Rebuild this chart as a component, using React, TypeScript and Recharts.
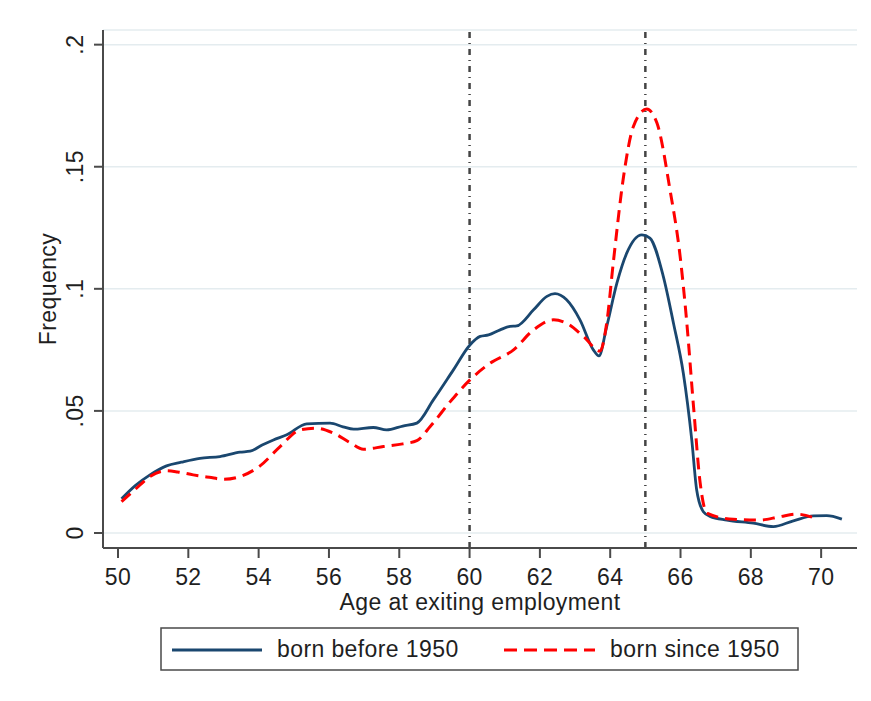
import React from 'react';
import { CartesianGrid, Label, Line, LineChart, ReferenceLine, XAxis, YAxis } from 'recharts';

// kernel density of age at exiting employment, two birth cohorts

const beforeAges = [
  50.1, 50.5, 50.91, 51.38, 51.8, 52.33, 52.9, 53.47, 53.76, 54.1, 54.42, 54.8, 55.37, 56.03,
  56.4, 56.7, 57.26, 57.64, 58.1, 58.5, 58.97, 59.54, 60.01, 60.3, 60.54, 60.87, 61.15, 61.34,
  61.82, 62.2, 62.43, 62.76, 63.14, 63.52, 63.68, 63.9, 64.19, 64.47, 64.9, 65.13, 65.51, 65.8,
  66.08, 66.32, 66.46, 66.65, 66.84, 67.32, 68.07, 68.64, 69.21, 69.78, 70.16, 70.59
];
const beforeValues = [
  0.014, 0.0195, 0.0238, 0.0275, 0.029, 0.0306, 0.0313, 0.0331, 0.0335, 0.036, 0.0381, 0.0402,
  0.0447, 0.045, 0.0435, 0.0425, 0.0432, 0.0422, 0.0438, 0.045, 0.0545, 0.0668, 0.077, 0.0805,
  0.0811, 0.0832, 0.0846, 0.0848, 0.0914, 0.0969, 0.098, 0.0955, 0.0873, 0.075, 0.0725, 0.0845,
  0.1023, 0.1146, 0.1221, 0.1208, 0.1051, 0.0859, 0.0654, 0.0381, 0.0176, 0.0087, 0.0068,
  0.0053, 0.004, 0.0026, 0.005, 0.007, 0.0071, 0.0057
];

const sinceAges = [
  50.1, 50.5, 50.91, 51.38, 51.7, 52.14, 52.6, 53.0, 53.47, 54.04, 54.61, 55.18, 55.65, 56.13,
  56.6, 56.98, 57.55, 58.1, 58.5, 58.88, 59.45, 60.01, 60.58, 61.25, 61.82, 62.39, 62.76, 63.24,
  63.71, 63.9, 64.09, 64.38, 64.66, 65.04, 65.33, 65.7, 65.99, 66.18, 66.37, 66.56, 66.75, 67.5,
  68.26, 68.83, 69.31, 69.92
];
const sinceValues = [
  0.0128, 0.018, 0.0231, 0.0255, 0.025, 0.0238, 0.0228, 0.022, 0.0231, 0.0275, 0.0354, 0.0422,
  0.0429, 0.0409, 0.037, 0.0343, 0.0354, 0.0365, 0.0378, 0.0436, 0.0538, 0.0627, 0.0695, 0.075,
  0.0832, 0.0873, 0.0859, 0.0805, 0.0745, 0.0859, 0.111, 0.146, 0.1665, 0.1736, 0.1679, 0.1406,
  0.1132, 0.0859, 0.0518, 0.0204, 0.0081, 0.0056, 0.0053, 0.0067, 0.0077, 0.0056
];

const seriesNames = ['born before 1950', 'born since 1950'];
const xTicks = [50, 52, 54, 56, 58, 60, 62, 64, 66, 68, 70];
const yTicks = [0, 0.05, 0.1, 0.15, 0.2];
const markerAges = [60, 65];

const beforeData = beforeAges.map((age, i) => ({ age, value: beforeValues[i] }));
const sinceData = sinceAges.map((age, i) => ({ age, value: sinceValues[i] }));

const FONT = '"Liberation Sans", Arial, sans-serif';
const FS = 23;
const LS = 0.4;
const TEXT = '#1f1f1f';
const BLUE = '#1a476f';
const RED = '#ff0000';
const AXIS = '#4a4a4a';

const fmtY = (v: number) => (v === 0 ? '0' : String(v).replace(/^0/, ''));

const XTick = (props: any) => {
  const { x, y, payload } = props;
  return (
    <text x={x} y={y} dy="0.76em" textAnchor="middle" fontSize={FS} letterSpacing={LS} fill={TEXT} fontFamily={FONT}>
      {payload.value}
    </text>
  );
};

const YTick = (props: any) => {
  const { x, y, payload } = props;
  return (
    <text
      x={x}
      y={y}
      textAnchor="middle"
      fontSize={FS}
      letterSpacing={LS}
      fill={TEXT}
      fontFamily={FONT}
      transform={`rotate(-90, ${x}, ${y})`}
    >
      {fmtY(payload.value)}
    </text>
  );
};

const Legend = () => (
  <svg width={640} height={45} style={{ position: 'absolute', left: 152, top: 619 }}>
    <rect x={1} y={1} width={637} height={42} fill="#fff" stroke={AXIS} strokeWidth={1.5} />
    <line x1={12} x2={102} y1={23} y2={23} stroke={BLUE} strokeWidth={2.8} />
    <text x={117} y={30} fontSize={FS} letterSpacing={LS} fill={TEXT} fontFamily={FONT}>{seriesNames[0]}</text>
    <line x1={344} x2={435} y1={23} y2={23} stroke={RED} strokeWidth={3} strokeDasharray="13 7" />
    <text x={450} y={30} fontSize={FS} letterSpacing={LS} fill={TEXT} fontFamily={FONT}>{seriesNames[1]}</text>
  </svg>
);

export default function App() {
  return (
    <div style={{ position: 'relative', width: 855, height: 685 }}>
      <div
        style={{
          position: 'absolute',
          left: -2,
          top: -4,
          width: 870,
          height: 700,
          borderTop: '2px solid #edf3f5',
          borderLeft: '2px solid #edf3f5',
        }}
      />
      <LineChart
        width={855}
        height={685}
        margin={{ top: 22, right: 6, bottom: 85, left: 0 }}
        style={{ fontFamily: FONT }}
      >
        <CartesianGrid vertical={false} stroke="#e4ecef" strokeWidth={1.5} />
        <XAxis
          dataKey="age"
          type="number"
          domain={[49.573, 71.02]}
          ticks={xTicks}
          allowDataOverflow
          height={60}
          tickSize={10}
          tickMargin={10}
          stroke={AXIS}
          strokeWidth={2}
          tick={<XTick />}
        >
          <Label
            content={({ viewBox }: any) => (
              <text
                x={viewBox.x + viewBox.width / 2}
                y={viewBox.y + 62}
                textAnchor="middle"
                fontSize={FS}
                letterSpacing={LS}
                fill={TEXT}
                fontFamily={FONT}
              >
                Age at exiting employment
              </text>
            )}
          />
        </XAxis>
        <YAxis
          type="number"
          domain={[-0.00615, 0.206]}
          ticks={yTicks}
          allowDataOverflow
          width={95}
          tickSize={9}
          tickMargin={11}
          stroke={AXIS}
          strokeWidth={2}
          tick={<YTick />}
        >
          <Label
            content={({ viewBox }: any) => {
              const cx = 48;
              const cy = viewBox.y + viewBox.height / 2;
              return (
                <text
                  x={cx}
                  y={cy}
                  textAnchor="middle"
                  fontSize={FS}
                  letterSpacing={LS}
                  fill={TEXT}
                  fontFamily={FONT}
                  transform={`rotate(-90, ${cx}, ${cy})`}
                >
                  Frequency
                </text>
              );
            }}
          />
        </YAxis>
        {markerAges.map((a) => (
          <ReferenceLine key={a} x={a} stroke="#444" strokeWidth={2.5} strokeDasharray="6 5 1 5" />
        ))}
        <Line
          data={beforeData}
          dataKey="value"
          name={seriesNames[0]}
          type="monotone"
          stroke={BLUE}
          strokeWidth={2.8}
          dot={false}
          activeDot={false}
          isAnimationActive={false}
        />
        <Line
          data={sinceData}
          dataKey="value"
          name={seriesNames[1]}
          type="monotone"
          stroke={RED}
          strokeWidth={3}
          strokeDasharray="12 7"
          dot={false}
          activeDot={false}
          isAnimationActive={false}
        />
      </LineChart>
      <Legend />
    </div>
  );
}
